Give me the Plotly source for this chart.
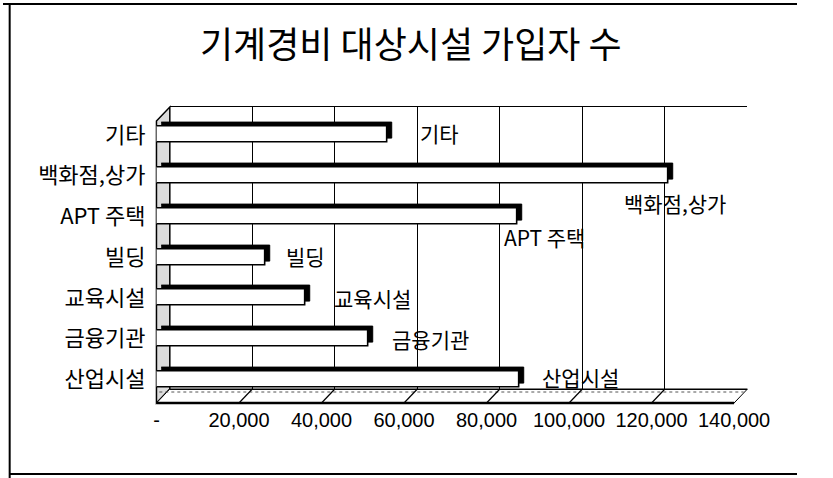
import plotly.graph_objects as go

# ---------------- data ----------------
categories = ["기타", "백화점,상가", "APT 주택", "빌딩", "교육시설", "금융기관", "산업시설"]
subscribers = [56000, 124000, 87500, 26500, 36000, 51500, 88000]
tick_values = [0, 20000, 40000, 60000, 80000, 100000, 120000, 140000]
tick_labels = ["-", "20,000", "40,000", "60,000", "80,000", "100,000", "120,000", "140,000"]
title_text = "기계경비 대상시설 가입자 수"

# ---------------- style / layout ----------------
label_dx = [30, -46, -15, 18, 27, 21, 20]     # data label offsets (px)
label_dy = [2, -27, -21, 1, 0, 0, 3]

W, H = 833, 478
def fx(px):
    return px / W
def fy(py):
    return 1 - py / H

X_MAX = 140000
FRONT_L, FRONT_R = 161, 767
DEPTH_X, DEPTH_Y = 14, 14
BACK_L, BACK_R = FRONT_L + DEPTH_X, FRONT_R + DEPTH_X
FLOOR_FRONT = 403
FLOOR_BACK = FLOOR_FRONT - DEPTH_Y
WALL_TOP = 107
BAR_TOP, BAR_BOT = 114.6, 399.9
SH_DX, SH_DY = 5, 4
BAR_W = 0.39
KFONT = "Noto Sans CJK KR"
NFONT = "Liberation Sans"
n = len(categories)
cat_range = [n - 0.5, -0.5]

fig = go.Figure()

# back wall subplot (gridlines only)
fig.add_trace(go.Scatter(x=[0], y=[0], mode="markers", marker=dict(opacity=0),
                         hoverinfo="skip", showlegend=False, xaxis="x", yaxis="y"))
# bar depth (dark top / end faces)
fig.add_trace(go.Bar(y=categories, x=subscribers, orientation="h", width=BAR_W,
                     marker=dict(color="black", line=dict(color="black", width=1)),
                     xaxis="x2", yaxis="y2", showlegend=False, hoverinfo="skip"))
# bar front faces
fig.add_trace(go.Bar(y=categories, x=subscribers, orientation="h", width=BAR_W,
                     marker=dict(color="white", line=dict(color="black", width=1.6)),
                     xaxis="x3", yaxis="y3", showlegend=False))

hidden = dict(showgrid=False, zeroline=False, showticklabels=False, ticks="", showline=False)

px_per_unit = (FRONT_R - FRONT_L) / X_MAX
depth_units = DEPTH_X / px_per_unit

shapes = []
# left side wall
shapes.append(dict(type="path", xref="paper", yref="paper", layer="below",
                   path=f"M {fx(FRONT_L)} {fy(WALL_TOP + DEPTH_Y)} L {fx(BACK_L)} {fy(WALL_TOP)} "
                        f"L {fx(BACK_L)} {fy(FLOOR_BACK)} L {fx(FRONT_L)} {fy(FLOOR_FRONT)} Z",
                   fillcolor="#dcdcdc", line=dict(color="black", width=1.5)))
# floor
shapes.append(dict(type="path", xref="paper", yref="paper", layer="below",
                   path=f"M {fx(FRONT_L)} {fy(FLOOR_FRONT)} L {fx(BACK_L)} {fy(FLOOR_BACK)} "
                        f"L {fx(BACK_R)} {fy(FLOOR_BACK)} L {fx(FRONT_R)} {fy(FLOOR_FRONT)} Z",
                   fillcolor="white", line=dict(color="black", width=1)))
shapes.append(dict(type="line", xref="paper", yref="paper", layer="above",
                   x0=fx(FRONT_L), x1=fx(FRONT_R), y0=fy(FLOOR_FRONT), y1=fy(FLOOR_FRONT),
                   line=dict(color="black", width=2.5)))
shapes.append(dict(type="line", xref="paper", yref="paper", layer="above",
                   x0=fx(FRONT_L + 3), x1=fx(FRONT_R + 10), y0=fy(FLOOR_BACK + 3), y1=fy(FLOOR_BACK + 3),
                   line=dict(color="#555", width=1, dash="dot")))
# floor tick diagonals
for v in tick_values[1:]:
    shapes.append(dict(type="line", xref="x3", yref="paper", layer="above",
                       x0=v, x1=v + depth_units, y0=fy(FLOOR_FRONT), y1=fy(FLOOR_BACK),
                       line=dict(color="black", width=1.2)))
# outer frame
shapes.append(dict(type="line", xref="paper", yref="paper", x0=fx(0), x1=fx(W), y0=fy(4), y1=fy(4),
                   line=dict(color="black", width=2)))
shapes.append(dict(type="line", xref="paper", yref="paper", x0=fx(7), x1=fx(7), y0=fy(4), y1=fy(H),
                   line=dict(color="black", width=2)))
shapes.append(dict(type="line", xref="paper", yref="paper", x0=fx(7), x1=fx(W), y0=fy(474), y1=fy(474),
                   line=dict(color="black", width=2)))

annotations = [dict(xref="paper", yref="paper", x=fx(428), y=fy(42), text=title_text,
                    showarrow=False, xanchor="center", yanchor="middle",
                    font=dict(family=KFONT, size=36, color="black"))]
for c, v, dx, dy in zip(categories, subscribers, label_dx, label_dy):
    annotations.append(dict(xref="x3", yref="y3", x=v, y=c, text=c, showarrow=False,
                            xanchor="left", yanchor="middle", xshift=dx, yshift=dy,
                            font=dict(family=KFONT, size=21, color="black")))

fig.update_layout(
    width=W, height=H, autosize=False,
    margin=dict(l=0, r=0, t=0, b=0),
    paper_bgcolor="white", plot_bgcolor="rgba(0,0,0,0)",
    showlegend=False, bargap=0,
    xaxis=dict(domain=[fx(BACK_L), fx(BACK_R)], range=[0, X_MAX], anchor="y",
               tickvals=tick_values, showgrid=True, gridcolor="black", gridwidth=1.3,
               zeroline=False, showticklabels=False, ticks="",
               showline=True, mirror=True, linecolor="black", linewidth=1),
    yaxis=dict(domain=[fy(FLOOR_BACK), fy(WALL_TOP)], range=[0, 1], anchor="x", **hidden),
    xaxis2=dict(domain=[fx(FRONT_L + SH_DX), fx(FRONT_R + SH_DX)], range=[0, X_MAX], anchor="y2", **hidden),
    yaxis2=dict(domain=[fy(BAR_BOT - SH_DY), fy(BAR_TOP - SH_DY)], type="category",
                categoryorder="array", categoryarray=categories, range=cat_range, anchor="x2", **hidden),
    xaxis3=dict(domain=[fx(FRONT_L), fx(FRONT_R)], range=[0, X_MAX], anchor="y3",
                tickvals=tick_values, ticktext=tick_labels, showgrid=False, zeroline=False,
                ticks="", showline=False, ticklabelstandoff=6,
                tickfont=dict(family=NFONT, size=20, color="black")),
    yaxis3=dict(domain=[fy(BAR_BOT), fy(BAR_TOP)], type="category",
                categoryorder="array", categoryarray=categories, range=cat_range, anchor="x3",
                showgrid=False, zeroline=False, ticks="", showline=False, ticklabelstandoff=10,
                tickfont=dict(family=KFONT, size=22, color="black")),
    shapes=shapes,
    annotations=annotations,
)

fig.write_html("out.html", config={"displayModeBar": False},
               post_script="document.body.style.margin='0px';document.body.style.overflow='hidden';")
